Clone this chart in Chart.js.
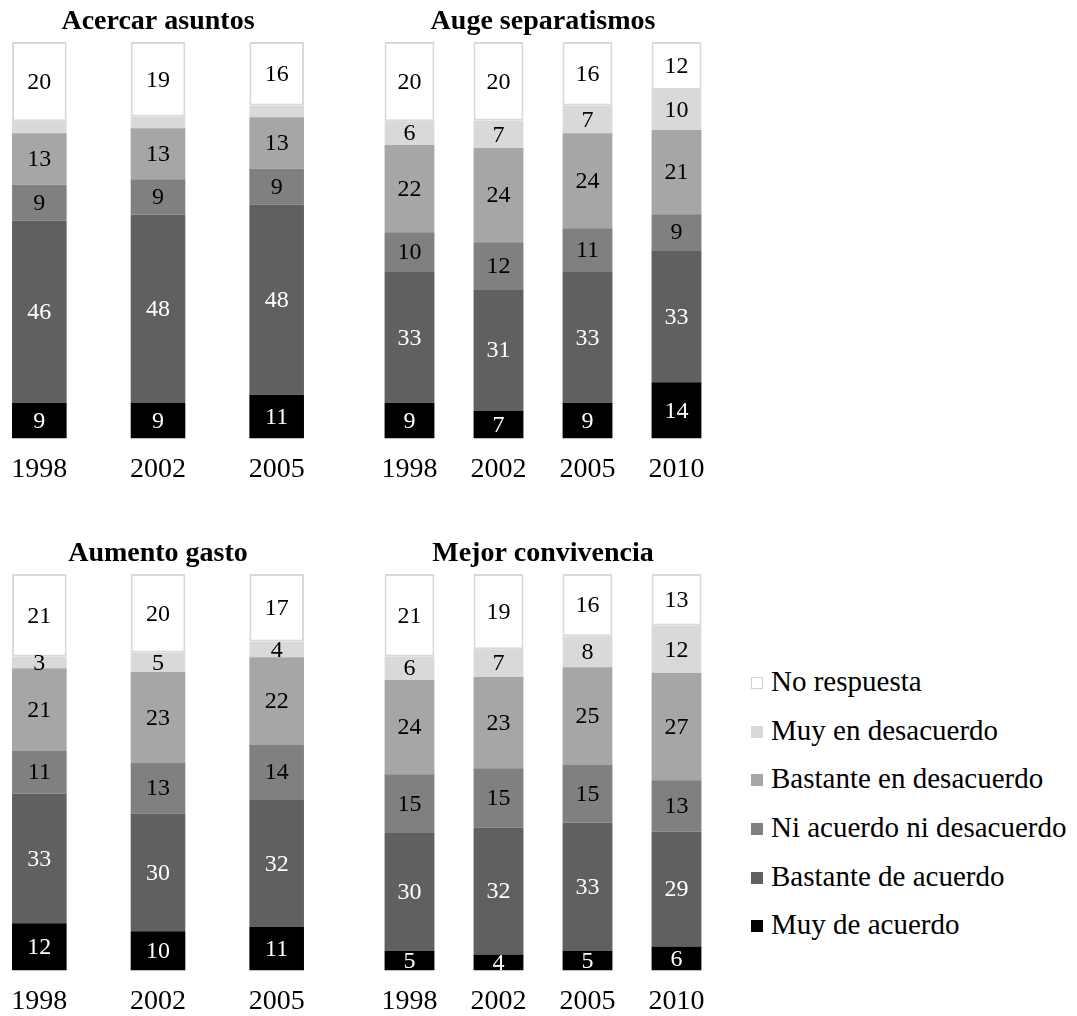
<!DOCTYPE html>
<html>
<head>
<meta charset="utf-8">
<script src="https://cdn.jsdelivr.net/npm/chart.js@4"></script>
<style>
  body { margin: 0; background: #fff; width: 1077px; height: 1016px; position: relative; overflow: hidden; }
  .panel { position: absolute; width: 356px; height: 492px; }
  #legend { position: absolute; left: 751px; top: 662px; font-family: 'Liberation Serif', 'Times New Roman', serif; font-size: 29px; color: #000; }
  #legend div { height: 48.7px; line-height: 38px; white-space: nowrap; }
  #legend span { display: inline-block; width: 12px; height: 12px; margin-right: 8px; vertical-align: 2px; box-sizing: border-box; }
</style>
</head>
<body>
<div class="panel" style="left:-20px; top:0px;"><canvas id="c1"></canvas></div>
<div class="panel" style="left:365px; top:0px;"><canvas id="c2"></canvas></div>
<div class="panel" style="left:-20px; top:532px;"><canvas id="c3"></canvas></div>
<div class="panel" style="left:365px; top:532px;"><canvas id="c4"></canvas></div>
<div id="legend"></div>
<script>
// categorias y series
const years3 = ['1998', '2002', '2005'];
const years4 = ['1998', '2002', '2005', '2010'];
const seriesNames = ['Muy de acuerdo', 'Bastante de acuerdo', 'Ni acuerdo ni desacuerdo',
  'Bastante en desacuerdo', 'Muy en desacuerdo', 'No respuesta'];
const seriesColors = ['#000000', '#606060', '#808080', '#a6a6a6', '#d9d9d9', '#ffffff'];
const labelColors = ['#ffffff', '#ffffff', '#000000', '#000000', '#000000', '#000000'];

// valores (%), una fila por serie, en el orden de seriesNames
const acercarAsuntos = [
  [9, 9, 11],
  [46, 48, 48],
  [9, 9, 9],
  [13, 13, 13],
  [3, 3, 3],
  [20, 19, 16]
];
const augeSeparatismos = [
  [9, 7, 9, 14],
  [33, 31, 33, 33],
  [10, 12, 11, 9],
  [22, 24, 24, 21],
  [6, 7, 7, 10],
  [20, 20, 16, 12]
];
const aumentoGasto = [
  [12, 10, 11],
  [33, 30, 32],
  [11, 13, 14],
  [21, 23, 22],
  [3, 5, 4],
  [21, 20, 17]
];
const mejorConvivencia = [
  [5, 4, 5, 6],
  [30, 32, 33, 29],
  [15, 15, 15, 13],
  [24, 23, 25, 27],
  [6, 7, 8, 12],
  [21, 19, 16, 13]
];

const serif = "'Liberation Serif', 'Times New Roman', serif";

// etiquetas dentro de cada segmento
const segLabels = {
  id: 'segLabels',
  afterDatasetsDraw(chart) {
    const ctx = chart.ctx;
    ctx.save();
    ctx.font = '24px ' + serif;
    ctx.textAlign = 'center';
    ctx.textBaseline = 'middle';
    chart.data.datasets.forEach((ds, i) => {
      if (ds.hideLabels) return;
      const meta = chart.getDatasetMeta(i);
      meta.data.forEach((bar, j) => {
        const p = bar.getProps(['x', 'y', 'base'], true);
        ctx.fillStyle = ds.labelColor;
        ctx.fillText(ds.raw[j], p.x, (p.y + p.base) / 2 + 1);
      });
    });
    ctx.restore();
  }
};

function makeChart(id, title, labels, values, barPct, hideSeries) {
  // 100% apilado: cada columna se escala a su total
  const totals = labels.map((_, j) => values.reduce((s, row) => s + row[j], 0));
  const datasets = values.map((row, i) => ({
    label: seriesNames[i],
    raw: row,
    data: row.map((v, j) => v / totals[j] * 100),
    backgroundColor: seriesColors[i],
    borderColor: i === 5 ? '#d9d9d9' : seriesColors[i],
    borderWidth: i === 5 ? 2 : 0,
    borderSkipped: false,
    labelColor: labelColors[i],
    hideLabels: hideSeries === i,
    barPercentage: barPct,
    categoryPercentage: 1
  }));
  new Chart(document.getElementById(id), {
    type: 'bar',
    data: { labels: labels, datasets: datasets },
    options: {
      responsive: true,
      maintainAspectRatio: false,
      animation: false,
      layout: { padding: 0 },
      plugins: {
        legend: { display: false },
        tooltip: { enabled: false },
        title: {
          display: true,
          text: title,
          color: '#000',
          font: { family: serif, size: 28, weight: 'bold' },
          padding: { top: 5, bottom: 3.4 }
        }
      },
      scales: {
        x: {
          stacked: true,
          grid: { display: false },
          border: { display: false },
          ticks: { color: '#000', font: { family: serif, size: 28 }, padding: 6 }
        },
        y: { stacked: true, min: 0, max: 100, display: false }
      }
    },
    plugins: [segLabels]
  });
}

makeChart('c1', 'Acercar asuntos', years3, acercarAsuntos, 0.46, 4);
makeChart('c2', 'Auge separatismos', years4, augeSeparatismos, 0.56);
makeChart('c3', 'Aumento gasto', years3, aumentoGasto, 0.46);
makeChart('c4', 'Mejor convivencia', years4, mejorConvivencia, 0.56);

// leyenda
const legend = document.getElementById('legend');
for (let i = seriesNames.length - 1; i >= 0; i--) {
  const row = document.createElement('div');
  const box = document.createElement('span');
  box.style.background = seriesColors[i];
  if (i === 5) box.style.border = '1px solid #d0d0d0';
  row.appendChild(box);
  row.appendChild(document.createTextNode(seriesNames[i]));
  legend.appendChild(row);
}
</script>
</body>
</html>
